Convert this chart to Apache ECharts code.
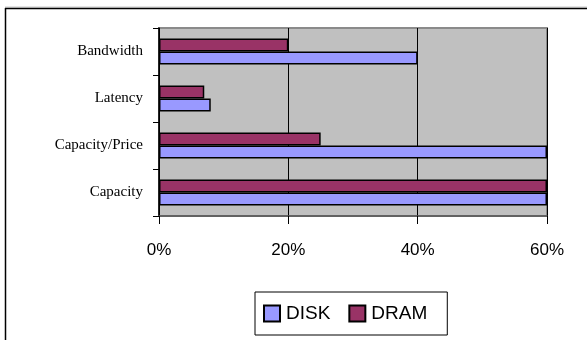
<!DOCTYPE html>
<html>
<head>
<meta charset="utf-8">
<script src="https://cdn.jsdelivr.net/npm/echarts@6/dist/echarts.min.js"></script>
<style>
  html, body { margin: 0; padding: 0; background: #fff; }
  #chart { width: 587px; height: 340px; }
</style>
</head>
<body>
<div id="chart"></div>
<script>
// Yearly improvement rates, DISK vs DRAM
const categories = ['Capacity', 'Capacity/Price', 'Latency', 'Bandwidth'];
const diskValues = [60, 60, 8, 40];
const dramValues = [60, 25, 7, 20];
const axisTicks = { min: 0, max: 60, interval: 20 };

const chart = echarts.init(document.getElementById('chart'), null, { renderer: 'canvas' });

const barBorder = { borderColor: '#000', borderWidth: 1.5 };

chart.setOption({
  backgroundColor: '#fff',
  animation: false,
  graphic: [
    // frame around the chart
    { type: 'line', shape: { x1: 5, y1: 7, x2: 587, y2: 7 }, style: { stroke: '#c8c8c8', lineWidth: 1 } },
    { type: 'line', shape: { x1: 5, y1: 8.5, x2: 587, y2: 8.5 }, style: { stroke: '#000', lineWidth: 1.5 } },
    { type: 'line', shape: { x1: 5.5, y1: 8, x2: 5.5, y2: 340 }, style: { stroke: '#000', lineWidth: 1.5 } }
  ],
  grid: {
    left: 159, top: 28, right: 40, bottom: 124,
    show: true,
    backgroundColor: '#c0c0c0',
    borderColor: '#8a8a8a',
    borderWidth: 2
  },
  legend: {
    data: ['DISK', 'DRAM'],
    left: 255, top: 292,
    itemWidth: 16, itemHeight: 16,
    itemGap: 18,
    padding: [12, 20, 12, 8],
    borderColor: '#000', borderWidth: 1,
    icon: 'rect',
    textStyle: { fontFamily: 'Liberation Sans, Arial, sans-serif', fontSize: 19, color: '#000', padding: [0, 0, 3, 1] }
  },
  xAxis: {
    type: 'value',
    min: axisTicks.min, max: axisTicks.max, interval: axisTicks.interval,
    axisLine: { show: true, lineStyle: { color: '#555', width: 1.5 } },
    axisTick: { show: true, length: 8, lineStyle: { color: '#000' } },
    splitLine: { show: true, lineStyle: { color: '#000', width: 1 } },
    axisLabel: {
      formatter: '{value}%', margin: 26, color: '#000',
      fontFamily: 'Liberation Sans, Arial, sans-serif', fontSize: 17
    }
  },
  yAxis: {
    type: 'category',
    data: categories,
    axisLine: { show: true, lineStyle: { color: '#000', width: 1.5 } },
    axisTick: { show: true, length: 6, lineStyle: { color: '#000' } },
    splitLine: { show: false },
    axisLabel: {
      margin: 16, color: '#000',
      fontFamily: 'Liberation Serif, Times New Roman, serif', fontSize: 15
    }
  },
  series: [
    {
      name: 'DRAM', type: 'bar', data: dramValues,
      barGap: '0%', barCategoryGap: '45%',
      itemStyle: Object.assign({ color: '#993366' }, barBorder)
    },
    {
      name: 'DISK', type: 'bar', data: diskValues,
      barGap: '0%', barCategoryGap: '45%',
      itemStyle: Object.assign({ color: '#9999ff' }, barBorder)
    }
  ]
});
</script>
</body>
</html>
